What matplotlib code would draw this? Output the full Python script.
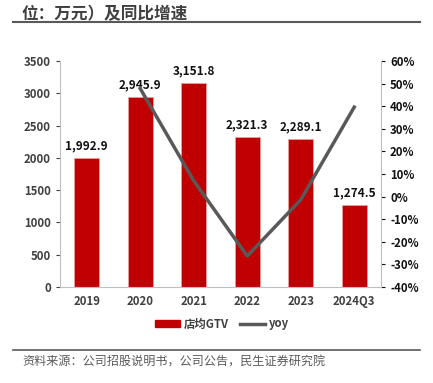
import matplotlib

matplotlib.use("Agg")
import matplotlib.pyplot as plt
from matplotlib.lines import Line2D

plt.rcParams["font.family"] = ["Noto Sans CJK SC", "DejaVu Sans"]

categories = ["2019", "2020", "2021", "2022", "2023", "2024Q3"]
gtv = [1992.9, 2945.9, 3151.8, 2321.3, 2289.1, 1274.5]
yoy_cats = ["2020", "2021", "2022", "2023", "2024Q3"]
yoy = [47.8, 7.0, -26.3, -1.4, 39.6]

W, H = 433, 383
fig = plt.figure(figsize=(W / 100, H / 100), dpi=100)

ax = fig.add_axes([60 / W, 1 - 287 / H, (381 - 60) / W, (287 - 61) / H])
x = range(len(categories))
ax.bar(x, gtv, width=0.46, color="#C00000", edgecolor="#E8A0A0", linewidth=0.6, zorder=2)
for xi, v in zip(x, gtv):
    ax.text(xi, v + 90, f"{v:,.1f}", ha="center", va="bottom", fontsize=8.5,
            fontweight="bold", color="#111111", zorder=4)

ax.set_xlim(-0.5, len(categories) - 0.5)
ax.set_ylim(0, 3500)
ax.set_yticks(range(0, 3501, 500))
ax.set_xticks(list(x))
ax.set_xticklabels(categories)
ax.tick_params(axis="both", labelsize=8.2, colors="#404040", length=3, width=0.8)
ax.tick_params(axis="x", length=0, pad=6)
for lab in ax.get_xticklabels() + ax.get_yticklabels():
    lab.set_fontweight("bold")
for s in ["top", "right"]:
    ax.spines[s].set_visible(False)
ax.spines["left"].set_color("#BFBFBF")
ax.spines["bottom"].set_color("#BFBFBF")

ax2 = ax.twinx()
yoy_x = [categories.index(c) for c in yoy_cats]
ax2.plot(yoy_x, yoy, color="#595959", linewidth=2.5, zorder=3)
ax2.set_ylim(-40, 60)
ax2.set_yticks(range(-40, 61, 10))
ax2.set_yticklabels([f"{t}%" for t in range(-40, 61, 10)])
ax2.tick_params(axis="y", labelsize=8.2, colors="#111111", length=3, width=0.8)
for lab in ax2.get_yticklabels():
    lab.set_fontweight("bold")
for s in ["top", "left", "bottom"]:
    ax2.spines[s].set_visible(False)
ax2.spines["right"].set_color("#BFBFBF")

handles = [plt.Rectangle((0, 0), 1, 1, color="#C00000"),
           Line2D([0], [0], color="#595959", linewidth=2.5)]
leg = fig.legend(handles, ["店均GTV", "yoy"], loc="center", bbox_to_anchor=(222 / W, 1 - 324 / H),
                 ncol=2, frameon=False, fontsize=8.2, handlelength=2.2, handleheight=0.6,
                 columnspacing=1.0, handletextpad=0.3)
for t in leg.get_texts():
    t.set_fontweight("bold")
    t.set_color("#404040")

fig.text(22 / W, 1 - 14 / H, "位：万元）及同比增速", fontsize=12, fontweight="bold",
         color="#404040", va="center", ha="left")
fig.add_artist(Line2D([13 / W, 420 / W], [1 - 22 / H, 1 - 22 / H], color="#595959", linewidth=1.5))
fig.add_artist(Line2D([13 / W, 420 / W], [1 - 350 / H, 1 - 350 / H], color="#595959", linewidth=1.2))
fig.text(22 / W, 1 - 362 / H, "资料来源：公司招股说明书，公司公告，民生证券研究院", fontsize=8.7,
         color="#595959", va="center", ha="left")

fig.savefig("out.png", dpi=100)
